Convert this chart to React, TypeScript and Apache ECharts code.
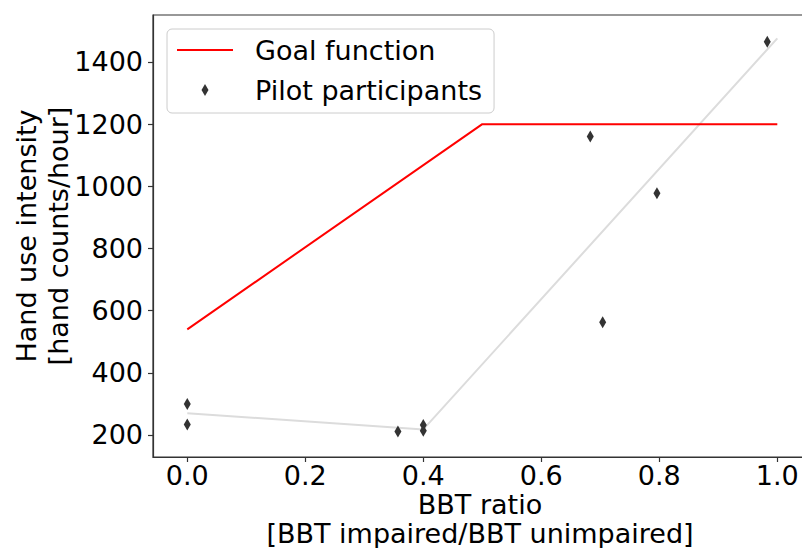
import React, { useEffect, useRef } from "react";
import * as echarts from "echarts";

// ---- data ----
const goalX = [0.0, 0.5, 1.0];
const goalY = [540, 1200, 1200];

const fitX = [0.0, 0.4, 1.0];
const fitY = [270, 218, 1476];

const pilotX = [0.0, 0.0, 0.357, 0.4, 0.4, 0.683, 0.704, 0.796, 0.983];
const pilotY = [300, 234, 211, 232, 214, 1160, 563, 978, 1465];

const xTicks = [0.0, 0.2, 0.4, 0.6, 0.8, 1.0];
const yTicks = [200, 400, 600, 800, 1000, 1200, 1400];

const FONT = "DejaVu Sans";
const DIAMOND = "path://M0,-6L3.5,0L0,6L-3.5,0Z";
const LINE_ICON = "path://M0,0L56,0L56,2L0,2Z";

export default function App() {
  const ref = useRef<HTMLDivElement>(null);

  useEffect(() => {
    if (!ref.current) return;
    const chart = echarts.init(ref.current, null, { renderer: "svg" });

    const pair = (xs: number[], ys: number[]) => xs.map((x, i) => [x, ys[i]]);

    chart.setOption({
      animation: false,
      backgroundColor: "#ffffff",
      grid: {
        left: 153,
        top: 15,
        width: 658,
        height: 442,
        outerBoundsMode: "none",
        containLabel: false,
        show: true,
        borderColor: "#333333",
        borderWidth: 1.2,
        backgroundColor: "transparent",
      },
      xAxis: {
        type: "value",
        min: -0.0581,
        max: 1.0571,
        splitLine: { show: false },
        axisLine: { show: true, onZero: false, lineStyle: { color: "#333333", width: 1.2 } },
        axisTick: {
          show: true,
          length: 5,
          customValues: xTicks,
          lineStyle: { color: "#333333", width: 1.2 },
        },
        axisLabel: {
          customValues: xTicks,
          formatter: (v: number) => v.toFixed(1),
          fontFamily: FONT,
          fontSize: 27,
          color: "#000000",
          margin: 5,
        },
      },
      yAxis: {
        type: "value",
        min: 129.2,
        max: 1551.2,
        splitLine: { show: false },
        axisLine: { show: true, onZero: false, lineStyle: { color: "#333333", width: 1.2 } },
        axisTick: {
          show: true,
          length: 5,
          customValues: yTicks,
          lineStyle: { color: "#333333", width: 1.2 },
        },
        axisLabel: {
          customValues: yTicks,
          formatter: (v: number) => String(v),
          fontFamily: FONT,
          fontSize: 27,
          color: "#000000",
          margin: 10,
        },
      },
      legend: {
        show: true,
        orient: "vertical",
        left: 167,
        top: 29,
        padding: [6, 12, 8, 10],
        itemGap: 10,
        itemWidth: 56,
        itemHeight: 12,
        backgroundColor: "rgba(255,255,255,0.8)",
        borderColor: "#cccccc",
        borderWidth: 1,
        borderRadius: 5,
        textStyle: {
          fontFamily: FONT,
          fontSize: 27,
          color: "#000000",
          lineHeight: 30,
          padding: [0, 0, 0, 17],
        },
        data: [
          { name: "Goal function", icon: LINE_ICON },
          { name: "Pilot participants", icon: DIAMOND },
        ],
      },
      graphic: [
        {
          type: "text",
          x: 26,
          y: 236,
          rotation: Math.PI / 2,
          style: {
            text: "Hand use intensity",
            fontFamily: FONT,
            fontSize: 27,
            fill: "#000000",
            align: "center",
            verticalAlign: "middle",
          },
        },
        {
          type: "text",
          x: 58,
          y: 236,
          rotation: Math.PI / 2,
          style: {
            text: "[hand counts/hour]",
            fontFamily: FONT,
            fontSize: 27,
            fill: "#000000",
            align: "center",
            verticalAlign: "middle",
          },
        },
        {
          type: "text",
          x: 480,
          y: 504,
          style: {
            text: "BBT ratio",
            fontFamily: FONT,
            fontSize: 27,
            fill: "#000000",
            align: "center",
            verticalAlign: "middle",
          },
        },
        {
          type: "text",
          x: 480,
          y: 533,
          style: {
            text: "[BBT impaired/BBT unimpaired]",
            fontFamily: FONT,
            fontSize: 27,
            fill: "#000000",
            align: "center",
            verticalAlign: "middle",
          },
        },
      ],
      series: [
        {
          name: "fit",
          type: "line",
          data: pair(fitX, fitY),
          symbol: "none",
          lineStyle: { color: "#dcdcdc", width: 2 },
          z: 1,
        },
        {
          name: "Goal function",
          type: "line",
          data: pair(goalX, goalY),
          symbol: "none",
          lineStyle: { color: "#ff0000", width: 2 },
          itemStyle: { color: "#ff0000" },
          z: 2,
        },
        {
          name: "Pilot participants",
          type: "scatter",
          data: pair(pilotX, pilotY),
          symbol: DIAMOND,
          symbolSize: [7, 12],
          itemStyle: { color: "#333333", opacity: 1 },
          z: 3,
        },
      ],
    });

    return () => chart.dispose();
  }, []);

  return (
    <div
      ref={ref}
      style={{ position: "fixed", left: 0, top: 0, width: 802, height: 548 }}
    />
  );
}
